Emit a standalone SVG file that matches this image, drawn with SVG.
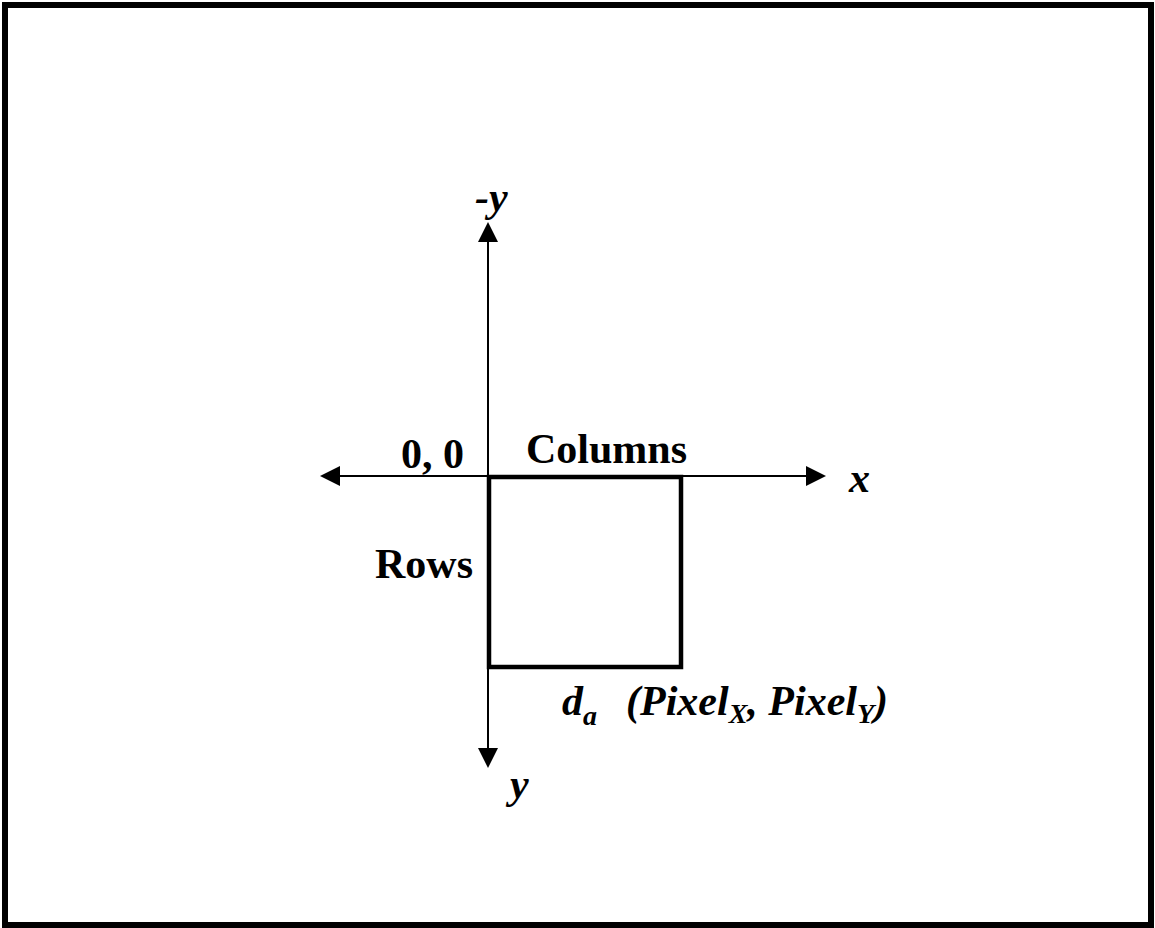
<svg xmlns="http://www.w3.org/2000/svg" width="1155" height="928" viewBox="0 0 1155 928">
<style>
  .t { font-family: "Liberation Serif", "Times New Roman", serif; font-weight: bold; font-size: 42px; fill: #000; }
  .i { font-style: italic; }
  .sub { font-size: 28px; }
  .ax { stroke: #000; stroke-width: 2; fill: none; }
</style>
<defs>
  <marker id="ah" viewBox="0 0 20 20" refX="0" refY="10" markerWidth="20" markerHeight="20" markerUnits="userSpaceOnUse" orient="auto">
    <path d="M0,0 L20,10 L0,20 Z" fill="#000"/>
  </marker>
</defs>
<rect x="0" y="0" width="1155" height="928" fill="#fff"/>
<rect id="frame" x="5" y="5" width="1146" height="920" fill="none" stroke="#000" stroke-width="6"/>
<g id="connectors">
  <line class="ax" x1="488" y1="476" x2="488" y2="242" marker-end="url(#ah)"/>
  <line class="ax" x1="488" y1="476" x2="488" y2="748" marker-end="url(#ah)"/>
  <line class="ax" x1="488" y1="476" x2="806" y2="476" marker-end="url(#ah)"/>
  <line class="ax" x1="488" y1="476" x2="340" y2="476" marker-end="url(#ah)"/>
</g>
<g id="pixel">
  <rect x="489" y="477" width="192" height="190" fill="none" stroke="#000" stroke-width="4.5"/>
</g>
<g id="labels">
  <text class="t i" x="475" y="211">-y</text>
  <text class="t" x="401" y="468">0, 0</text>
  <text class="t" x="526" y="463">Columns</text>
  <text class="t i" x="849" y="492">x</text>
  <text class="t" x="375" y="578">Rows</text>
  <text class="t i" x="562" y="715">d<tspan class="sub" dy="10">a</tspan></text>
  <text class="t i" x="626" y="715">(Pixel<tspan class="sub" dy="8">X</tspan><tspan dy="-8">, Pixel</tspan><tspan class="sub" dy="8">Y</tspan><tspan dy="-8">)</tspan></text>
  <text class="t i" x="510" y="798">y</text>
</g>
</svg>
